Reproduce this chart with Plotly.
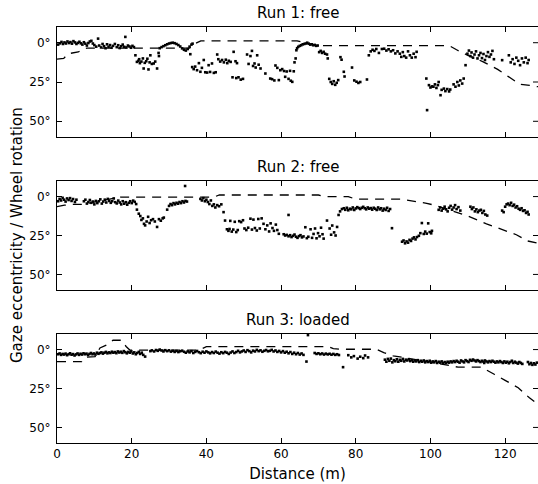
import plotly.graph_objects as go

# ---------------- data (distance in m, angle in degrees) ----------------
run1_gaze = [
    (0.3,1.2),(0.8,0.4),(1.2,-0.5),(1.6,0.8),(2.0,-0.2),(2.4,0.5),(2.8,-0.8),(3.2,0.2),(3.6,-0.4),(4.0,0.6),
    (4.4,-1.0),(4.8,-0.2),(5.2,0.8),(5.6,0.1),(6.0,-0.6),(6.4,0.4),(6.8,1.2),(7.2,-0.3),(7.6,0.6),(8.0,1.8),
    (8.4,0.2),(8.8,-0.8),(9.2,-1.2),(9.6,0.5),(10.0,1.5),
    (10.5,2.5),(11.0,-2.6),(11.3,1.8),(11.8,3.0),(12.2,0.8),(12.6,2.2),(13.0,3.5),(13.4,1.0),(13.8,2.6),(14.2,1.5),
    (14.6,3.2),(15.0,2.0),(15.5,0.8),(16.0,2.8),(16.4,1.6),(16.8,3.4),(17.2,2.2),(17.6,1.2),(18.0,2.6),(18.3,-3.7),
    (18.6,3.0),(19.0,1.8),(19.4,2.4),(19.8,3.2),(20.2,2.0),(20.6,2.8),
    (27.5,3.5),(28.0,2.8),(28.5,2.2),(29.0,1.6),(29.5,1.0),(30.0,0.5),(30.5,0.2),(31.0,0.0),(31.5,0.3),(32.0,0.8),
    (32.5,1.5),(33.0,2.4),(33.5,3.6),(34.0,4.5),(34.5,5.0),(35.0,4.0),(35.5,2.5),(35.7,7.3),(36.0,1.2),(36.3,0.6),
    (21.0,8.0),(21.4,12.2),(21.8,11.5),(22.2,13.0),(22.6,12.0),(23.0,10.0),(23.2,16.4),(23.5,12.8),(23.9,11.8),(24.2,10.2),
    (24.5,17.0),(24.8,12.5),(25.0,8.0),(25.4,13.5),(25.9,13.2),(26.3,12.0),(26.8,16.4),(27.2,6.5),(27.3,8.5),(22.0,10.5),
    (36.2,15.5),(36.6,16.8),(37.0,15.2),(37.5,17.5),(38.0,13.0),(38.4,18.5),(38.8,16.0),(39.3,11.0),(39.7,18.8),(40.2,19.0),
    (40.6,14.3),(41.0,18.6),(41.5,13.2),(42.0,19.2),(42.5,18.8),(42.9,7.5),
    (43.2,10.5),(43.7,12.0),(44.2,11.0),(44.7,12.5),(45.2,10.8),(45.6,13.0),(46.0,11.5),(46.5,12.2),(47.0,22.0),(47.3,5.8),
    (47.8,11.8),(48.2,13.0),(48.0,22.5),(48.6,22.0),(49.2,23.5),(49.8,23.0),(50.9,7.5),(51.3,13.5),(51.8,8.5),(52.2,5.2),
    (52.5,14.8),(52.9,13.2),(53.2,15.8),(53.6,8.0),(54.0,14.0),(54.5,16.4),(55.8,19.6),(57.1,22.8),(57.6,23.2),(58.2,24.0),
    (58.5,14.5),(59.0,16.0),(59.4,23.8),(59.8,17.5),(60.3,16.8),(60.8,18.0),(61.1,21.7),(61.5,18.3),(62.0,23.0),(62.4,17.9),
    (62.6,24.2),(63.0,24.9),(63.4,18.2),(63.6,12.5),(63.9,10.0),(64.1,4.8),(64.3,3.5),
    (64.6,2.6),(65.0,2.0),(65.4,1.6),(65.8,1.0),(66.2,0.8),(66.6,0.5),(67.0,0.0),(67.4,0.6),(67.8,1.2),(68.2,1.0),
    (68.6,1.6),(69.0,1.4),(69.4,2.0),(69.8,1.8),
    (70.2,6.0),(70.6,5.2),(71.0,6.5),(71.4,5.8),(71.8,7.0),(72.3,7.5),(72.5,10.0),(72.9,23.0),(73.3,25.0),(73.7,26.2),
    (74.1,24.5),(74.5,26.8),(74.9,25.5),(75.3,23.8),(75.9,9.2),(76.2,10.8),(76.8,18.5),(77.0,21.5),(79.0,15.8),(79.6,24.0),
    (80.2,24.8),(80.7,25.6),(81.2,25.0),(83.0,23.4),(83.5,8.0),(84.0,5.5),(84.5,4.5),(85.0,5.2),(85.5,4.0),
    (86.2,6.5),(87.0,4.0),(87.6,3.8),(88.2,5.0),(88.8,4.2),(89.4,5.5),(90.0,4.8),(90.6,6.8),(91.2,5.5),(91.8,7.0),
    (92.2,9.0),(92.6,6.0),(93.0,8.5),(93.5,9.5),(94.0,5.5),(94.5,8.0),(95.0,9.5),(95.5,7.0),(96.0,9.2),(96.3,5.8),
    (98.9,22.8),(99.1,42.9),(99.6,27.0),(100.0,28.5),(100.4,27.8),(100.8,28.0),(101.2,26.5),(101.6,28.8),(102.0,27.0),(102.2,25.0),
    (102.7,33.4),(103.0,30.0),(103.6,29.2),(104.0,30.8),(104.5,29.5),(105.0,31.0),(105.3,29.8),(106.2,26.5),(106.7,28.0),(107.2,25.0),
    (107.6,27.2),(108.0,24.0),(108.5,26.0),(108.9,22.8),
    (109.4,14.3),(109.9,7.0),(110.3,5.0),(110.7,8.5),(111.0,6.2),(111.4,9.5),(111.8,7.5),(112.2,5.5),(112.6,10.0),(113.0,8.0),
    (113.4,6.5),(113.8,9.8),(114.2,7.2),(114.6,11.0),(115.0,8.5),(115.4,6.0),(115.8,9.0),(116.2,7.5),(116.6,5.2),(117.0,10.5),
    (119.2,11.1),(121.0,8.0),(121.5,12.5),(122.0,10.5),(122.5,13.5),(123.0,9.5),(123.5,11.5),(124.0,14.3),(124.5,10.0),(125.0,12.5),
    (125.5,9.5),(126.0,13.0),(126.3,11.0),
]
run1_wheel_x = [0, 1.8, 3.0, 5.7, 7.0, 8.0, 35.5, 37.0, 38.5, 64.3, 67.0, 70.0, 105.0, 107.0, 110.0, 114.0, 118.0, 121.5, 124.0, 126.0, 128.8]
run1_wheel_y = [10.5, 10.0, 7.0, 5.9, 4.0, 3.5, 3.5, 0.5, -1.2, -1.2, 0.5, 1.8, 1.8, 4.5, 8.0, 12.0, 17.0, 22.5, 26.5, 27.0, 28.0]

run2_gaze = [
    (0.3,3.0),(0.7,1.5),(1.1,2.5),(1.5,0.8),(1.9,2.0),(2.3,3.2),(2.7,1.2),(3.1,2.2),(3.5,1.0),(3.9,2.8),
    (4.3,1.6),(4.8,3.5),(5.2,2.0),
    (7.2,3.0),(7.6,2.0),(8.0,4.5),(8.4,3.5),(8.8,2.2),(9.2,4.0),(9.6,3.2),(10.0,5.0),(10.4,2.8),(10.8,4.2),(11.2,3.0),
    (11.6,1.8),(12.0,4.5),(12.4,3.2),(12.8,2.0),(13.2,3.8),(13.6,1.5),(14.0,2.8),(14.4,4.0),(14.8,3.0),(15.2,1.2),
    (15.6,3.6),(16.0,4.4),(16.4,2.6),(16.8,3.8),(17.2,5.0),(17.6,3.0),(18.0,4.6),(18.4,3.6),(18.8,5.2),(19.2,4.0),
    (19.6,3.0),(20.0,4.2),(20.4,2.6),(20.8,3.4),(21.2,4.8),(21.4,8.4),
    (21.9,11.0),(22.3,12.5),(22.6,15.0),(23.0,14.0),(23.3,17.5),(23.6,18.5),(24.0,16.0),(24.4,13.0),(24.8,17.0),(25.2,15.2),
    (25.7,14.5),(26.2,16.0),(26.8,19.5),(27.3,14.5),(27.8,15.5),(28.3,14.0),(28.6,13.5),(29.5,8.4),
    (30.0,6.0),(30.4,4.8),(30.8,5.5),(31.2,4.2),(31.6,5.0),(32.0,4.0),(32.4,4.6),(32.8,3.5),(33.2,4.2),(33.6,3.0),
    (34.0,3.8),(34.4,2.8),(34.8,3.2),(34.3,-6.8),
    (38.4,1.5),(38.8,2.5),(39.2,1.0),(39.6,3.0),(40.0,2.0),(40.4,3.5),(40.8,4.8),(41.2,2.5),(41.6,6.0),(42.0,5.0),(42.4,7.0),
    (42.9,5.5),(43.4,6.2),(44.0,5.0),(44.6,10.0),(45.0,15.4),(45.5,21.0),(45.9,22.0),(46.2,20.8),(46.4,15.6),(46.8,22.5),
    (47.2,21.2),(47.6,16.2),(48.0,22.8),(48.4,21.5),(48.8,15.8),(49.3,16.4),(49.8,15.2),(50.2,20.5),(50.7,21.5),(51.2,20.0),
    (51.8,14.2),(52.2,21.2),(52.6,14.8),(53.0,20.2),(53.5,21.8),(53.9,14.4),(54.3,20.5),(54.8,14.0),(55.3,17.5),(55.8,21.0),
    (56.3,18.5),(56.8,22.4),(57.2,17.2),(57.7,20.2),(58.1,22.0),(58.6,18.0),(59.0,21.5),(59.4,23.9),
    (60.7,24.2),(61.1,25.0),(61.5,24.6),(62.0,11.8),(62.0,25.5),(62.4,24.8),(62.8,26.0),(63.2,25.2),(63.6,24.4),(64.0,25.8),
    (64.4,26.5),(64.8,25.4),(65.2,24.8),(65.6,26.2),(66.0,25.6),(66.5,19.7),(66.9,26.7),(67.3,25.8),(67.9,21.0),(68.3,26.5),
    (68.7,24.0),(69.1,20.5),(69.5,26.8),(69.9,23.5),(70.3,25.5),(70.7,20.0),(71.1,24.2),(71.4,27.0),(72.3,15.4),(73.0,20.5),
    (73.4,24.5),(73.7,18.6),(74.2,23.0),(74.6,25.0),(75.0,19.5),(75.4,11.8),(75.8,9.5),(76.3,8.0),
    (76.8,7.5),(77.2,8.5),(77.6,7.2),(78.0,8.8),(78.4,7.8),(78.8,8.2),(79.2,7.0),(79.6,8.6),(80.0,7.6),(80.4,6.8),
    (80.8,7.4),(81.2,8.0),(81.6,7.2),(82.0,6.6),(82.4,7.5),(82.8,8.2),(83.2,7.0),(83.6,7.8),(84.0,7.4),(84.4,8.4),
    (84.8,7.2),(85.2,7.8),(85.6,8.6),
    (86.0,7.0),(86.4,8.2),(86.8,7.5),(87.2,9.0),(87.6,7.8),(88.0,8.6),(88.4,7.2),(88.8,9.2),(89.2,8.0),(89.7,20.3),
    (92.4,29.0),(92.8,28.2),(93.2,30.0),(93.6,28.8),(94.0,29.6),(94.4,27.8),(94.8,28.5),(95.2,27.0),(95.6,26.2),(96.0,27.5),
    (96.4,26.0),(96.9,25.2),(97.3,23.5),(97.7,17.0),(98.2,24.0),(98.6,22.5),(99.0,23.8),(99.4,17.2),(99.8,22.8),(100.2,23.6),(100.4,22.0),
    (102.2,8.5),(102.6,7.0),(103.0,9.0),(103.4,7.8),(103.8,6.5),(104.2,8.2),(104.6,9.5),(105.0,7.2),(105.4,6.0),(105.8,8.4),
    (106.2,7.0),(106.6,5.5),(107.0,8.0),(107.5,6.8),(108.0,9.0),
    (110.7,6.5),(111.1,8.0),(111.5,7.0),(111.9,9.5),(112.3,8.2),(112.7,10.0),(113.1,9.0),(113.5,8.5),(113.9,10.5),(114.3,9.2),
    (114.7,11.5),(115.2,12.2),
    (119.2,9.0),(119.6,10.0),(120.0,6.5),(120.4,5.0),(120.8,4.5),(121.2,5.5),(121.6,4.0),(122.0,6.0),(122.4,5.2),(122.8,7.0),
    (123.2,6.2),(123.6,7.8),(124.0,8.5),(124.4,7.5),(124.8,9.2),(125.2,8.8),(125.6,10.5),(126.0,9.8),(126.3,11.5),
]
run2_wheel_x = [0, 2.0, 4.5, 6.5, 9.0, 12.0, 15.0, 17.0, 42.0, 43.5, 70.0, 71.5, 78.0, 80.0, 92.0, 95.0, 99.0, 101.0, 105.0, 110.0, 115.0, 119.0, 123.0, 126.0, 128.8]
run2_wheel_y = [6.5, 5.5, 5.0, 5.0, 4.0, 2.5, 1.0, 0.3, 0.3, -1.0, -1.0, 0.0, 0.0, 1.7, 1.7, 2.7, 4.3, 5.5, 8.5, 12.5, 17.5, 21.0, 24.5, 28.5, 30.0]

run3_gaze = [
    (0.3,3.0),(0.7,2.5),(1.1,3.4),(1.5,2.8),(1.9,3.2),(2.3,2.6),(2.7,3.6),(3.1,3.0),(3.5,2.4),(3.9,3.3),
    (4.3,2.9),(4.7,3.8),(5.1,3.1),(5.5,2.5),(5.9,3.4),(6.3,2.7),(6.7,3.2),(7.1,2.4),(7.5,3.0),(7.9,2.6),
    (8.3,3.5),(8.7,2.8),(9.1,2.2),(9.5,3.0),(9.9,2.5),(10.3,3.2),(10.7,2.0),(11.1,2.7),(11.5,2.2),(11.9,1.8),
    (12.3,2.6),(12.7,2.0),(13.1,1.5),(13.5,2.4),(13.9,1.8),(14.3,2.2),(14.7,1.4),(15.1,2.0),(15.5,1.6),(15.9,2.3),
    (16.3,1.2),(16.7,1.9),(17.1,1.4),(17.5,2.1),(17.9,1.0),(18.3,1.7),(18.7,2.4),(19.1,1.5),(19.5,2.0),(19.9,1.2),
    (20.3,2.5),(20.7,1.8),(21.1,3.0),(21.5,2.2),(21.9,1.5),(22.3,2.8),(22.7,2.0),(23.1,3.4),(23.6,4.5),
    (25.0,1.0),(25.4,0.5),(26.0,1.2),(26.5,0.3),(27.0,0.8),(27.5,0.0),(28.0,0.6),(28.5,1.2),(29.0,0.4),(29.5,1.0),
    (30.0,0.5),(30.5,1.3),(31.0,0.8),(31.5,1.5),(32.0,0.9),(32.5,1.6),(33.0,1.1),(33.5,0.7),(34.0,1.4),(34.5,2.0),
    (35.0,1.2),(35.5,1.8),(36.0,1.0),(36.5,2.2),(37.0,1.5),(37.5,0.9),(38.0,1.7),(38.5,2.3),(39.0,1.4),(39.5,2.0),
    (40.0,1.2),(40.5,1.8),(41.0,2.4),(41.5,1.6),(42.0,2.2),(42.5,1.3),(43.0,2.0),(43.5,2.6),(44.0,1.7),(44.5,2.3),
    (45.0,1.5),(45.5,2.0),(46.0,2.8),(46.5,1.9),(47.0,1.2),(47.5,2.2),(48.0,1.6),(48.5,0.8),(49.0,1.8),(49.5,1.2),
    (50.0,0.6),(50.5,1.5),(51.0,0.4),(51.5,1.0),(52.0,1.8),(52.5,0.7),(53.0,1.2),(53.5,0.2),(54.0,1.0),(54.5,0.5),
    (55.0,1.4),(55.5,0.8),(56.0,0.3),(56.5,1.1),
    (57.0,0.8),(57.5,0.2),(58.0,1.2),(58.5,0.6),(59.0,1.5),(59.5,0.9),(60.0,1.8),(60.5,1.0),(61.0,2.0),(61.5,1.4),
    (62.0,2.4),(62.5,1.6),(63.0,2.8),(63.5,2.0),(64.0,3.0),(64.5,2.2),(65.0,3.2),(65.5,2.5),(66.0,3.4),(66.8,7.7),(67.2,-9.3),
    (69.0,2.2),(69.5,2.8),(70.0,2.4),(70.5,3.0),(71.0,2.5),(71.5,3.2),(72.0,2.6),(72.5,3.1),(73.0,2.7),(73.5,3.3),
    (74.0,2.8),(74.5,3.4),(75.0,3.0),(75.5,3.5),(76.6,11.3),
    (78.0,3.6),(78.8,5.0),(79.5,4.2),(80.5,5.8),(81.2,4.6),(82.0,5.5),(82.5,3.8),(83.3,5.0),
    (87.8,6.5),(88.2,7.8),(88.6,6.0),(89.0,7.2),(89.4,5.8),(89.8,8.2),(90.2,6.8),(90.6,7.5),(91.0,6.2),(91.4,7.8),
    (91.8,6.6),(92.2,7.2),(92.6,6.0),(93.0,7.6),(93.4,6.5),(93.8,7.0),(94.2,6.2),(94.6,7.4),(95.0,6.8),(95.4,7.8),
    (95.8,7.0),(96.2,7.6),(96.6,6.8),(97.0,8.0),(97.4,7.2),(97.8,7.8),(98.2,7.0),(98.6,8.2),(99.0,7.4),(99.4,8.0),
    (99.8,7.2),(100.2,8.4),(100.6,7.6),(101.0,8.2),(101.4,7.4),(101.8,8.6),(102.2,7.8),(102.6,8.4),(103.0,7.6),(103.4,8.8),
    (103.8,8.0),(104.2,8.6),(104.6,7.8),(105.0,8.4),(105.4,7.6),(105.8,8.2),(106.2,7.4),(106.6,8.0),(107.0,7.2),(107.4,7.8),
    (107.8,8.4),(108.2,7.0),(108.6,7.6),(109.0,8.2),(109.4,6.8),(109.8,7.4),(110.2,8.0),(110.6,6.6),(111.0,7.2),(111.4,6.4),
    (111.8,7.0),(112.2,7.6),(112.6,6.8),(113.0,7.4),(113.4,8.0),(113.8,7.2),(114.2,7.8),(114.6,7.0),(114.4,8.6),(115.0,7.6),
    (115.4,8.2),(115.8,7.4),(116.2,8.0),(116.6,7.2),(117.0,7.8),(117.4,8.4),(117.8,7.6),(118.2,8.2),(118.6,7.4),(119.0,8.0),
    (119.4,8.6),(119.8,7.6),(120.2,8.4),(120.6,7.8),(121.0,8.8),(121.4,8.0),(121.8,7.2),(122.2,8.6),(122.6,7.8),(123.0,8.4),
    (123.4,9.0),(123.8,8.0),(124.2,8.6),(124.6,9.2),(126.1,8.0),(126.5,9.4),(126.9,8.6),(127.3,9.8),(127.7,8.8),(128.1,9.6),(128.5,8.4),
]
run3_wheel_x = [0, 6.6, 7.5, 10.2, 11.5, 13.3, 15.0, 17.3, 18.5, 19.5, 38.0, 40.0, 72.6, 74.0, 76.0, 85.5, 87.5, 90.0, 100.0, 107.4, 113.6, 115.5, 117.2, 120.0, 123.5, 126.5, 128.8]
run3_wheel_y = [7.7, 7.7, 5.0, 4.5, -1.0, -3.0, -6.0, -6.0, -2.0, 0.3, 0.3, -1.9, -1.9, -0.6, -0.2, -0.2, 2.0, 4.0, 8.0, 11.3, 11.3, 14.0, 16.0, 19.8, 24.5, 31.0, 35.0]

titles = ["Run 1: free", "Run 2: free", "Run 3: loaded"]
x_ticks = [0, 20, 40, 60, 80, 100, 120]
y_ticks = [0, 25, 50]
y_tick_labels = ["0°", "25°", "50°"]
x_label = "Distance (m)"
y_label = "Gaze eccentricity / Wheel rotation"

# ---------------- figure ----------------
W, H = 538, 484
ML, MR, MT, MB = 57, 0, 27, 41
FONT = "DejaVu Sans"
plot_h = H - MT - MB
plot_w = W - ML - MR
panel_px = [(27, 137), (181, 290), (334, 443)]  # top, bottom in pixels
domains = [[(H - MB - b) / plot_h, (H - MB - t) / plot_h] for t, b in panel_px]

runs = [(run1_gaze, run1_wheel_x, run1_wheel_y),
        (run2_gaze, run2_wheel_x, run2_wheel_y),
        (run3_gaze, run3_wheel_x, run3_wheel_y)]

fig = go.Figure()
layout = dict(
    width=W, height=H,
    margin=dict(l=ML, r=MR, t=MT, b=MB, pad=0),
    paper_bgcolor="white", plot_bgcolor="white",
    showlegend=False,
    font=dict(family=FONT, size=12, color="black"),
)
annotations = []
shapes = []
for i, (gaze, wx, wy) in enumerate(runs):
    n = "" if i == 0 else str(i + 1)
    xa, ya = "x" + n, "y" + n
    fig.add_trace(go.Scatter(
        x=[p[0] for p in gaze], y=[p[1] for p in gaze], mode="markers",
        marker=dict(size=2.6, color="black", symbol="square", line=dict(width=0)),
        xaxis=xa, yaxis=ya, cliponaxis=True))
    fig.add_trace(go.Scatter(
        x=wx, y=wy, mode="lines",
        line=dict(color="black", width=1.3, dash="9px,7px"),
        xaxis=xa, yaxis=ya))
    layout["xaxis" + n] = dict(
        domain=[0, 1], range=[0, 128.8], anchor=ya,
        tickvals=x_ticks, ticks="inside", ticklen=5, tickwidth=1, tickcolor="black",
        showline=True, linecolor="black", linewidth=1, mirror="ticks",
        showgrid=False, zeroline=False,
        showticklabels=(i == 2), tickfont=dict(size=12, family=FONT),
        title=dict(text=x_label if i == 2 else "", font=dict(size=15, family=FONT), standoff=8),
    )
    layout["yaxis" + n] = dict(
        domain=domains[i], range=[60, -10], anchor=xa,
        tickvals=y_ticks, ticktext=y_tick_labels,
        ticks="inside", ticklen=5, tickwidth=1, tickcolor="black",
        showline=True, linecolor="black", linewidth=1, mirror=False,
        showgrid=False, zeroline=False, tickfont=dict(size=12, family=FONT),
        ticklabelstandoff=3,
    )
    # right-side inward ticks (frame edge lies at the window border)
    for tv in y_ticks:
        shapes.append(dict(type="line", xref="paper", yref=ya,
                           x0=1 - 5 / plot_w, x1=1, y0=tv, y1=tv,
                           line=dict(color="black", width=1)))
    annotations.append(dict(
        text=titles[i], x=0.5, xref="paper", y=domains[i][1], yref="paper",
        xanchor="center", yanchor="bottom", yshift=3, showarrow=False,
        font=dict(size=15, family=FONT, color="black")))

annotations.append(dict(
    text=y_label, x=0, xref="paper", y=0.5, yref="paper", xshift=-40,
    xanchor="center", yanchor="middle", textangle=-90, showarrow=False,
    font=dict(size=15, family=FONT, color="black")))
layout["annotations"] = annotations
layout["shapes"] = shapes
fig.update_layout(**layout)
fig.write_html("out.html")
